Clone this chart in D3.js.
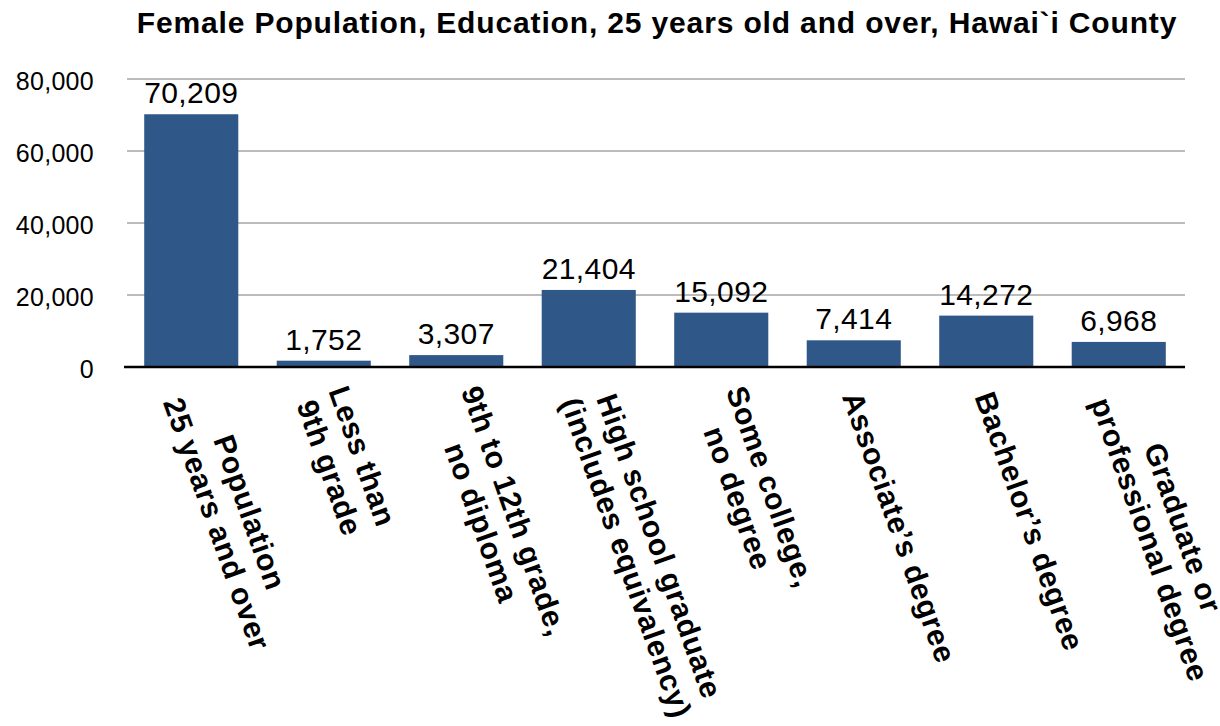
<!DOCTYPE html>
<html>
<head>
<meta charset="utf-8">
<script src="https://cdn.jsdelivr.net/npm/d3@7"></script>
<style>
html,body{margin:0;padding:0;background:#fff;}
svg{display:block;}
text{font-family:"Liberation Sans", Arial, Helvetica, sans-serif;}
</style>
</head>
<body>
<svg id="chart" width="1220" height="726"></svg>
<script>
const title = "Female Population, Education, 25 years old and over, Hawai`i County";
const categories = [
  ["Population", "25 years and over"],
  ["Less than", "9th grade"],
  ["9th to 12th grade,", "no diploma"],
  ["High school graduate", "(includes equivalency)"],
  ["Some college,", "no degree"],
  ["Associate\u2019s degree"],
  ["Bachelor\u2019s degree"],
  ["Graduate or", "professional degree"]
];
const values = [70209, 1752, 3307, 21404, 15092, 7414, 14272, 6968];
const yTicks = [0, 20000, 40000, 60000, 80000];

(function () {
const svg = d3.select("#chart");
const mLeft = 125, mRight = 1185, mTop = 79, mBottom = 367;

const x = d3.scaleBand().domain(d3.range(categories.length)).range([mLeft, mRight]).paddingInner(0.29).paddingOuter(0.145);
const y = d3.scaleLinear().domain([0, 80000]).range([mBottom, mTop]);
const fmt = d3.format(",");

// gridlines
svg.append("g").selectAll("line").data(yTicks.filter(d => d > 0)).join("line")
  .attr("x1", mLeft + 2).attr("x2", mRight).attr("y1", d => y(d)).attr("y2", d => y(d))
  .attr("stroke", "#bcbcbc").attr("stroke-width", 2);

// y axis labels
const yAxis = d3.axisLeft(y).tickValues(yTicks).tickFormat(fmt).tickSize(0).tickPadding(0);
const ya = svg.append("g").attr("transform", `translate(94,0)`).call(yAxis);
ya.select(".domain").remove();
ya.selectAll("text").attr("font-size", 25).attr("fill", "#000")
  .attr("font-family", '"Liberation Sans", Arial, sans-serif').attr("dy", "0.4em")
  .attr("letter-spacing", 0.3);

// bars
svg.append("g").selectAll("rect").data(values).join("rect")
  .attr("x", (d, i) => x(i)).attr("width", x.bandwidth())
  .attr("y", d => y(d)).attr("height", d => mBottom - y(d))
  .attr("fill", "#2f5889");

// baseline
svg.append("line").attr("x1", mLeft - 1).attr("x2", mRight).attr("y1", mBottom).attr("y2", mBottom)
  .attr("stroke", "#000").attr("stroke-width", 2.5);

// value labels
svg.append("g").selectAll("text").data(values).join("text")
  .attr("x", (d, i) => x(i) + x.bandwidth() / 2).attr("y", d => y(d) - 11)
  .attr("text-anchor", "middle").attr("font-size", 30).attr("fill", "#000")
  .attr("letter-spacing", 0.4)
  .text(d => fmt(d));

// title
svg.append("text").attr("x", 657).attr("y", 33)
  .attr("text-anchor", "middle").attr("font-size", 30).attr("font-weight", "bold")
  .attr("letter-spacing", 0.85)
  .text(title);

// category labels rotated
const fs = 30, lh = 35, angle = 70.5;
const cg = svg.append("g");
categories.forEach((lines, i) => {
  const cx = x(i) + x.bandwidth() / 2;
  const g = cg.append("g").attr("transform", `translate(${cx - 2},${mBottom + 26}) rotate(${angle})`);
  const texts = lines.map(l => g.append("text").attr("font-size", fs).attr("font-weight", "bold")
    .attr("letter-spacing", 0.7).attr("text-anchor", "middle").text(l));
  const W = d3.max(texts, t => t.node().getComputedTextLength());
  const H = lines.length * lh;
  texts.forEach((t, j) => t.attr("x", W / 2).attr("y", -H / 2 + j * lh + lh / 2).attr("dy", "0.35em"));
});
})();
</script>
</body>
</html>
